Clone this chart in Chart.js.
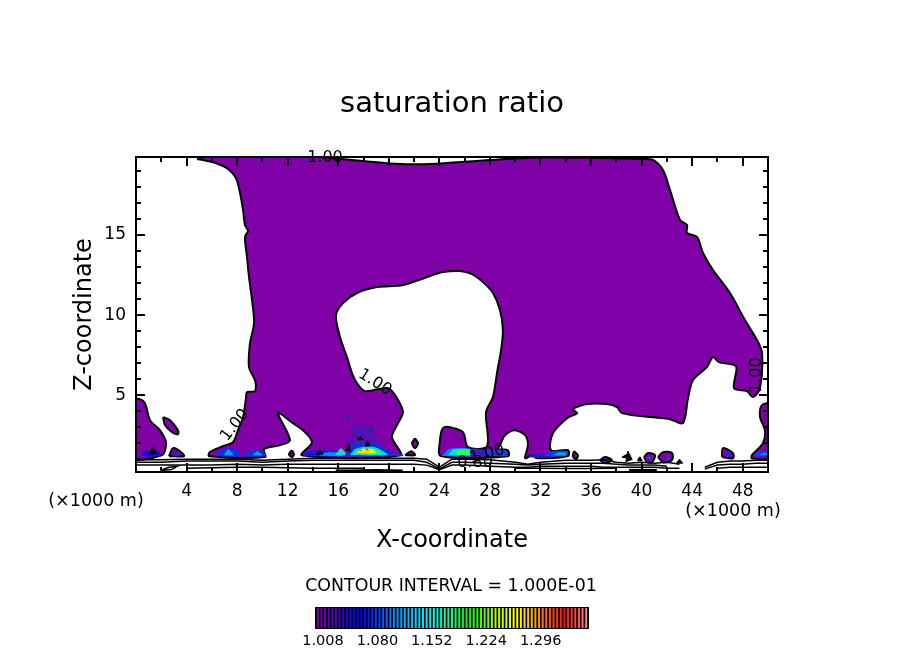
<!DOCTYPE html>
<html>
<head>
<meta charset="utf-8">
<title>saturation ratio</title>
<script src="https://cdn.jsdelivr.net/npm/chart.js@4/dist/chart.umd.min.js"></script>
<style>
body { margin: 0; background: #fff; }
#wrap { position: relative; width: 904px; height: 654px; }
#plot { position: absolute; left: 0; top: 0; }
#bar { position: absolute; left: 300px; top: 600px; }
</style>
</head>
<body>
<div id="wrap">
<canvas id="plot" width="904" height="654"></canvas>
<canvas id="bar" width="320" height="54"></canvas>
</div>
<script>
// axes
const xTickValues = [2,4,6,8,10,12,14,16,18,20,22,24,26,28,30,32,34,36,38,40,42,44,46,48];
const xLabelValues = [4,8,12,16,20,24,28,32,36,40,44,48];
const zTickValues = [1,2,3,4,5,6,7,8,9,10,11,12,13,14,15,16,17,18,19];
const zLabelValues = [5,10,15];

// main region above 1.00, traced around the outline
const mainX = [4.83,5.62,6.49,7.28,7.91,8.23,8.47,8.62,8.86,8.62,8.78,8.94,9.18,9.34,9.02,8.94,9.41,9.41,8.78,8.7,8.47,8.07,7.67,6.88,5.85,5.78,10.21,10.13,11.39,12.18,11.23,12.42,13.21,13.92,13.13,20.89,20.25,20.73,21.12,20.65,19.94,18.12,17.48,17.09,16.69,16.14,15.82,16.38,17.48,19.07,21.12,23.26,24.29,25.63,26.58,27.45,28.24,28.8,29.03,28.88,28.56,28.24,27.69,27.77,26.27,25.87,24.84,24.29,24.05,24.13,29.43,29.43,28.64,28.8,29.19,29.98,30.78,31.01,30.78,31.33,31.72,34.18,34.18,32.83,32.99,34.1,34.89,34.57,35.68,37.26,38.05,38.45,40.66,42.25,43.27,43.67,44.07,45.17,45.65,46.12,47.47,47.31,48.34,48.81,49.37,49.53,49.13,48.18,46.99,45.65,44.86,44.38,43.59,43.59,43.04,42.25,41.69,40.9,40.11,36.71,31.96,28,23.26,20.89,17.96,15.35,13,5.85];
const mainZ = [19.75,19.63,19.44,19.13,18.56,17.63,16.56,15.63,15.25,14.88,13.63,12.38,10.94,9.5,8.25,6.75,5.94,5.25,5.19,4.81,3.63,2.81,2.06,1.81,1.44,1.19,1.13,1.63,1.88,2.19,3.88,3.25,2.81,2.06,1.25,1.25,2.38,3.25,3.94,4.81,5.44,5.25,5.75,6.38,7.38,8.63,10,10.75,11.38,11.75,11.88,12.44,12.69,12.75,12.56,12.06,11.38,10.31,9.06,7.81,6.38,4.88,3.94,1.81,1.75,2.69,3,2.94,2.19,1.19,1.19,1.56,1.63,1.88,2.5,2.81,2.5,1.88,1.06,1.25,1.06,1.19,1.56,1.56,2.63,3.56,3.88,4.13,4.44,4.44,4.25,3.88,3.63,3.5,3.25,4.81,5.94,6.75,7.38,7.06,6.81,5.44,5.25,4.88,5.44,7.63,8.44,9.69,11.38,12.81,13.88,14.88,15.13,15.63,15.94,17.81,19.06,19.69,19.75,19.81,19.84,19.69,19.44,19.44,19.63,19.81,19.95,19.95];

// smaller closed regions above 1.00
const blobX = [
  [-0.5,0.3,0.71,1.11,1.9,2.37,2.05,-0.5],
  [2.14,2.69,3.32,3.32,2.85,2.29],
  [2.61,2.93,3.48,3.8],
  [22.07,22.31,22.07,21.84],
  [21.28,21.76,22.07],
  [12.34,12.5,12.34,12.1],
  [34.65,34.97,34.81,34.57],
  [36.71,37.1,37.66,37.1],
  [40.19,40.51,41.06,40.82,40.43],
  [41.3,41.69,42.41,42.41,41.69],
  [46.36,46.44,47.23,47.23],
  [50.5,49.53,49.37,49.76,49.6,48.73,48.73,50.5]
];
const blobZ = [
  [4.81,4.75,4.5,3.44,2.81,2.06,1.25,1.13],
  [3.63,3.44,2.81,2.56,2.69,3.13],
  [1.19,1.69,1.5,1.19],
  [2.31,2,1.69,2],
  [1.25,1.5,1.25],
  [1.56,1.31,1.13,1.31],
  [1.5,1.25,1,1.19],
  [0.94,1.13,0.94,0.75],
  [1.13,1.38,1.25,0.81,0.81],
  [1.13,1.44,1.38,0.94,0.81],
  [1.13,1.69,1.38,1.06],
  [4.56,4.38,3.63,2.81,2,1.25,1.06,1.13]
];

// higher levels near the cloud base, lowest first
const patchColors = ['#1010d0','#1828d8','#0a30e0','#00a0ff','#1030e0','#00a0ff','#0020e0','#0090ff','#20d0c0','#5a10b0','#3020c0','#3020c0','#3020c0','#1030d0','#00d0ff','#20ff60','#f8f000','#ff6000','#ff3010','#0080ff','#00e0d0','#30ff60','#3020c0','#1040e0','#2020c0','#0040ff','#00a0ff','#0040e0','#2040e0','#2040e0','#1030e0','#0040ff','#0080ff'];
const patchX = [
  [0.4,0.6,1.8,1.98],[2.9,3.1,3.4],
  [6.3,6.8,8,8.3],[6.95,7.3,7.7],
  [8.5,9,10,10.3],[9.2,9.6,10],
  [13.2,13.6,16,16.7],[14.5,15,16,16.3],[15.74,16.22,16.69],
  [16.7,17.2,18.2,19.6],[16.65,16.8,16.95,16.8],[17.6,17.8,18,17.8],[18.4,18.6,18.8,18.6],
  [16.53,17.09,17.88,18.75,19.7,20.25,21.12,21.12,16.53],
  [16.93,17.33,18.12,18.91,19.7,19.94],
  [17.17,17.56,18.35,19.15,19.46],
  [17.48,17.8,18.67,18.99],
  [17.64,17.76,17.88],[18.12,18.28,18.43],
  [24.2,24.8,26.5,26.5],[24.7,25.1,26.4,26.4],[25.3,25.5,26.4,26.4],
  [26.5,26.5,27.5,27.7],[27.7,27.7,29.3,29.4],
  [31,31.3,32.5,33],[32.2,32.9,34.1,34.1],[33,33.4,34,34],
  [36.9,37.1,37.3],[40.3,40.6,40.9],[41.9,42.1,42.3],[46.6,46.9,47.1],
  [48.8,49.1,50.5,50.5],[49.3,49.6,50.5,50.5]
];
const patchZ = [
  [1.19,1.5,1.5,1.19],[1.2,1.5,1.2],
  [1.19,1.62,1.62,1.19],[1.25,1.62,1.25],
  [1.19,1.56,1.56,1.19],[1.25,1.5,1.25],
  [1.19,1.5,1.5,1.19],[1.22,1.42,1.42,1.22],[1.25,1.69,1.25],
  [1.7,3.1,3.1,1.6],[3.65,3.85,3.65,3.45],[2.6,2.8,2.6,2.4],[2.85,3.05,2.85,2.65],
  [1.25,1.88,2.13,2,1.69,1.44,1.31,1.19,1.19],
  [1.25,1.63,1.81,1.75,1.44,1.25],
  [1.31,1.56,1.69,1.56,1.31],
  [1.38,1.63,1.63,1.38],
  [1.5,1.63,1.5],[1.56,1.69,1.56],
  [1.2,1.65,1.65,1.2],[1.25,1.62,1.62,1.25],[1.3,1.58,1.58,1.3],
  [1.2,1.65,1.6,1.2],[1.2,1.55,1.55,1.2],
  [1.1,1.3,1.3,1.1],[1.2,1.5,1.5,1.2],[1.25,1.42,1.42,1.25],
  [0.92,1.05,0.92],[1,1.2,1],[0.95,1.2,0.95],[1.2,1.55,1.2],
  [1.2,1.45,1.45,1.2],[1.25,1.4,1.4,1.25]
];

// tiny closed contours that print as black specks
const speckX = [[1.34,1.6,1.1],[14.56,14.8,14.3],[16.85,16.95,16.6],[18.3,18.55,18.15],[17.75,18,17.5],[38.45,38.84,38.84],[38.92,39.25,38.75],[39.72,39.87,40.05,39.7],[43,43.25,42.75]];
const speckZ = [[1.75,1.35,1.35],[1.6,1.32,1.32],[1.95,1.5,1.55],[2.15,1.85,1.8],[2.4,2.22,2.22],[1.13,1.31,1.06],[1.5,0.98,0.85],[1,1.15,0.9,0.9],[1,0.75,0.75]];

// low level contours along the ground, null where a line breaks off
const lowX = [0,2,4,6,8,10,12,14,16,18,20,22,23,24,25,26,28,30,31,32,34,36,37,38,39,40,41,42,43,44,45,46,47,48,49,50];
const lowA = [0.97,0.97,1,1,1,0.94,1,1.06,1.06,1.06,1.06,1.06,1,0.5,1,1,0.97,0.81,0.69,0.81,0.94,0.94,0.97,0.81,0.75,0.81,0.75,0.81,0.69,null,0.5,0.81,0.88,0.88,0.94,0.94];
const lowB = [0.81,0.81,0.88,0.88,0.88,0.81,0.88,0.94,0.94,0.94,0.94,0.94,0.81,0.4,0.81,0.81,0.75,0.69,0.63,0.69,0.75,0.75,0.75,0.69,0.63,0.63,0.63,0.56,null,null,0.38,0.63,0.69,0.69,0.75,0.75];
const lowC = [0.63,0.63,0.63,0.63,0.69,0.63,0.69,0.69,0.69,0.69,0.69,0.69,0.63,0.35,0.63,0.63,0.56,0.5,0.5,0.56,0.56,0.56,0.5,0.5,0.5,0.5,0.5,0.44,0.44,null,null,0.44,0.5,0.5,0.5,0.5];
const partX = [[4,6,8,10,12,14,16,18],[30,32,34,36,38]];
const partZ = [[0.44,0.47,0.5,0.5,0.47,0.44,0.44,0.44],[0.44,0.44,0.42,0.42,0.44]];
const loopX = [1.9,2.6,3.3,2.8,1.9];
const loopZ = [0.3,0.5,0.56,0.35,0.3];
const heavyX = [[15.8,17,19,21.1],[39,41.2]];
const heavyZ = [[0.26,0.26,0.3,0.26],[0.3,0.3]];

// contour labels
const labelText = ['1.00','1.00','1.00','1.00','0.80','1.00'];
const labelX = [14.95,18.9,7.83,49.13,26.82,27.77];
const labelZ = [19.8,5.8,3.13,6.25,0.75,1.31];
const labelAngle = [0,32,-52,-90,0,-15];

// colour bar
const barLabels = ['1.008','1.080','1.152','1.224','1.296'];
const barStops = [[0,'#8000a8'],[6,'#3c00c8'],[12,'#0000ff'],[22,'#0096ff'],[30,'#00f0ff'],[36,'#00ffa0'],[42,'#00ff00'],[50,'#c0ff00'],[55,'#ffff00'],[61,'#ff9000'],[68,'#ff1000'],[74,'#ff8080']];
const barCount = 75;

function hexRgb(h) {
    return [parseInt(h.substr(1,2),16), parseInt(h.substr(3,2),16), parseInt(h.substr(5,2),16)];
}
function stopColor(i) {
    for (var k = 0; k < barStops.length - 1; k++) {
        if (i <= barStops[k+1][0]) {
            var t = (i - barStops[k][0]) / (barStops[k+1][0] - barStops[k][0]);
            var a = hexRgb(barStops[k][1]), b = hexRgb(barStops[k+1][1]);
            return 'rgb(' + a.map((v,j) => Math.round(v + (b[j]-v)*t)).join(',') + ')';
        }
    }
    return barStops[barStops.length-1][1];
}

function toPoints(xs, zs, closed) {
    var pts = xs.map((x,i) => ({x: x, y: zs[i]}));
    if (closed) pts.push(pts[0]);
    return pts;
}

const FONT = '"DejaVu Sans"';
const purple = '#7f00a6';
var datasets = [];
function addShape(xs, zs, color, border, tension) {
    datasets.push({
        data: toPoints(xs, zs, true), showLine: true, pointRadius: 0, tension: tension,
        fill: 'shape', backgroundColor: color,
        borderColor: border ? '#000' : 'transparent', borderWidth: border
    });
}
function addLine(xs, zs, width) {
    datasets.push({
        data: toPoints(xs, zs, false), showLine: true, pointRadius: 0, tension: 0,
        fill: false, borderColor: '#000', borderWidth: width
    });
}

addShape(mainX, mainZ, purple, 2, 0.3);
blobX.forEach((xs,i) => addShape(xs, blobZ[i], purple, 2, 0.3));
patchX.forEach((xs,i) => addShape(xs, patchZ[i], patchColors[i], 0, 0.2));
speckX.forEach((xs,i) => addShape(xs, speckZ[i], '#000', 1, 0));
addLine(lowX, lowA, 1.5);
addLine(lowX, lowB, 1.5);
addLine(lowX, lowC, 1.5);
partX.forEach((xs,i) => addLine(xs, partZ[i], 1.5));
addLine(loopX, loopZ, 1.5);
heavyX.forEach((xs,i) => addLine(xs, heavyZ[i], 3));
// later datasets on top
datasets.forEach((d,i) => { d.order = -i; });

// frame, inward ticks, contour labels and loose text
const framePlugin = {
    id: 'frame',
    afterDatasetsDraw(chart) {
        var c = chart.ctx, a = chart.chartArea;
        var xs = chart.scales.x, ys = chart.scales.y;
        c.save();
        c.strokeStyle = '#000';
        c.lineWidth = 2;
        xTickValues.forEach(v => {
            var p = Math.round(xs.getPixelForValue(v));
            var len = xLabelValues.includes(v) ? 9 : 5;
            c.beginPath();
            c.moveTo(p, a.top); c.lineTo(p, a.top + len);
            c.moveTo(p, a.bottom); c.lineTo(p, a.bottom - len);
            c.stroke();
        });
        zTickValues.forEach(v => {
            var p = Math.round(ys.getPixelForValue(v));
            var len = zLabelValues.includes(v) ? 9 : 5;
            c.beginPath();
            c.moveTo(a.left, p); c.lineTo(a.left + len, p);
            c.moveTo(a.right, p); c.lineTo(a.right - len, p);
            c.stroke();
        });
        c.strokeRect(a.left, a.top, a.right - a.left, a.bottom - a.top);

        c.fillStyle = '#000';
        c.textAlign = 'center';
        c.textBaseline = 'middle';
        c.font = '16px ' + FONT;
        labelText.forEach((t,i) => {
            c.save();
            c.translate(xs.getPixelForValue(labelX[i]), ys.getPixelForValue(labelZ[i]));
            c.rotate(labelAngle[i] * Math.PI / 180);
            c.fillText(t, 0, 0);
            c.restore();
        });
        c.font = '17.5px ' + FONT;
        c.fillText('(\u00d71000 m)', 96, 501);
        c.fillText('(\u00d71000 m)', 733, 511);
        c.font = '17.4px ' + FONT;
        c.fillText('CONTOUR INTERVAL = 1.000E-01', 451, 586);
        c.restore();
    }
};

new Chart(document.getElementById('plot').getContext('2d'), {
    type: 'scatter',
    data: { datasets: datasets },
    plugins: [framePlugin],
    options: {
        responsive: false,
        animation: false,
        events: [],
        plugins: {
            legend: { display: false },
            tooltip: { enabled: false },
            title: {
                display: true,
                text: 'saturation ratio',
                color: '#000',
                font: { family: FONT, size: 29, weight: 'normal' },
                padding: { top: 86.6, bottom: 35.6 }
            }
        },
        scales: {
            x: {
                type: 'linear', min: 0, max: 50,
                grid: { display: false, drawTicks: false },
                border: { display: false },
                afterFit: s => { s.height = 182; },
                afterBuildTicks: s => { s.ticks = xTickValues.map(v => ({value: v})); },
                ticks: {
                    color: '#000', padding: 9, autoSkip: false, maxRotation: 0,
                    font: { family: FONT, size: 17 },
                    callback: v => xLabelValues.includes(v) ? String(v) : ''
                },
                title: {
                    display: true, text: 'X-coordinate', color: '#000',
                    font: { family: FONT, size: 24 },
                    padding: { top: 0, bottom: 98.6 }
                }
            },
            y: {
                type: 'linear', min: 0.2, max: 19.875,
                grid: { display: false, drawTicks: false },
                border: { display: false },
                afterFit: s => { s.width = 136; },
                afterBuildTicks: s => { s.ticks = zTickValues.map(v => ({value: v})); },
                ticks: {
                    color: '#000', padding: 10, autoSkip: false,
                    font: { family: FONT, size: 17 },
                    callback: v => zLabelValues.includes(v) ? String(v) : ''
                },
                title: {
                    display: true, text: 'Z-coordinate', color: '#000',
                    font: { family: FONT, size: 24 },
                    padding: { top: 70.6, bottom: 0 }
                }
            },
            // empty axis, only keeps the right margin so the title stays centred
            yRight: {
                axis: 'y', type: 'linear', position: 'right', min: 0, max: 1,
                grid: { display: false, drawTicks: false },
                border: { display: false },
                ticks: { display: false },
                afterFit: s => { s.width = 136; }
            }
        }
    }
});

// colour bar as its own small bar chart
var stripeIndex = [], stripeColors = [], stripeValues = [];
for (var i = 0; i < barCount; i++) {
    stripeIndex.push(i);
    stripeColors.push(stopColor(i));
    stripeValues.push(1);
}

const barBack = {
    id: 'barBack',
    beforeDatasetsDraw(chart) {
        var a = chart.chartArea, c = chart.ctx;
        c.save();
        c.fillStyle = '#000';
        c.fillRect(a.left - 1, a.top - 1, a.right - a.left + 2, a.bottom - a.top + 2);
        c.restore();
    }
};

new Chart(document.getElementById('bar').getContext('2d'), {
    type: 'bar',
    data: {
        labels: stripeIndex,
        datasets: [{
            data: stripeValues,
            backgroundColor: stripeColors,
            categoryPercentage: 1,
            barPercentage: 0.55
        }]
    },
    plugins: [barBack],
    options: {
        responsive: false,
        animation: false,
        events: [],
        layout: { padding: { left: 16, right: 32, top: 8, bottom: 0 } },
        plugins: { legend: { display: false }, tooltip: { enabled: false } },
        scales: {
            x: {
                grid: { display: false, drawTicks: false },
                border: { display: false },
                afterFit: s => { s.height = 26; },
                ticks: {
                    color: '#000', padding: 5, autoSkip: false, maxRotation: 0,
                    labelOffset: 1.6,
                    font: { family: FONT, size: 14.5 },
                    callback: (v, i) => i % 15 === 1 ? barLabels[(i - 1) / 15] : ''
                }
            },
            y: { display: false, min: 0, max: 1 }
        }
    }
});
</script>
</body>
</html>
